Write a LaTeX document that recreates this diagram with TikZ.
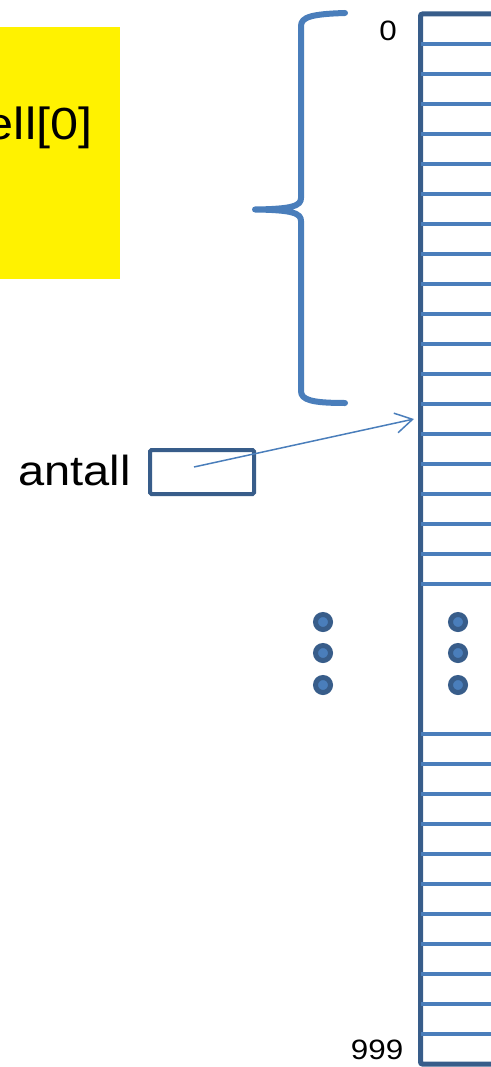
\documentclass[tikz,border=0pt]{standalone}
\usepackage{fontspec}
\setmainfont{Liberation Sans}
\usetikzlibrary{arrows.meta}
\definecolor{dk}{HTML}{385D8A}
\definecolor{lt}{HTML}{4A7EBB}
\begin{document}
\begin{tikzpicture}[x=1pt,y=-1pt,
  txt/.style={inner sep=0pt, text=black},
  cellline/.style={lt, line width=4.6pt},
  vdot/.style={fill=lt, draw=dk, line width=5pt},
  brace/.style={lt, line width=6pt, line cap=round, line join=round}]
\useasboundingbox (0,0) rectangle (490,1067);
% yellow box
\node[fill=yellow, inner sep=0pt, minimum width=122pt, minimum height=252pt, anchor=north east] (ybox) at (120,27) {};
\node[txt, anchor=base east] (ytxt) at (92.5,140) {\fontsize{45}{54}\selectfont\scalebox{1.12}[1]{ell[0]}};
% array
\draw[dk, line width=5pt, rounded corners=2pt] (420.5,14) rectangle (540,1064);
\foreach \k in {1,...,19,24,25,...,34} {
  \draw[cellline] (421,14+30*\k) -- (500,14+30*\k);
}
\node[txt, anchor=base] (zero) at (388,41) {\fontsize{28}{34}\selectfont\scalebox{1.12}[1]{0}};
\node[txt, anchor=base east] (last) at (403.5,1059) {\fontsize{28}{34}\selectfont\scalebox{1.12}[1]{999}};
% brace
\draw[brace] (345,13) .. controls (312,14) and (301,17) .. (301,26)
  -- (301,198) .. controls (301,206) and (292,209) .. (255,209.5)
  .. controls (292,210) and (301,213) .. (301,221)
  -- (301,391) .. controls (301,400) and (312,403) .. (345,403);
% dots
\foreach \xx in {323,458} {
  \foreach \yy in {622,653,685} {
    \filldraw[vdot] (\xx,\yy) circle (7.5pt);
  }
}
% antall
\node[txt, anchor=base east] (antall) at (131,485) {\fontsize{42}{50}\selectfont\scalebox{1.12}[1]{antall}};
\node[draw=dk, line width=4pt, rounded corners=1.5pt, minimum width=104pt, minimum height=44pt, inner sep=0pt] (abox) at (202,472) {};
\coordinate (astart) at (194,467);
\coordinate (aend) at (414,419);
\draw[lt, line width=1.5pt, -{Straight Barb[length=17pt,width=20pt]}] (astart) -- (aend);
\end{tikzpicture}
\end{document}
